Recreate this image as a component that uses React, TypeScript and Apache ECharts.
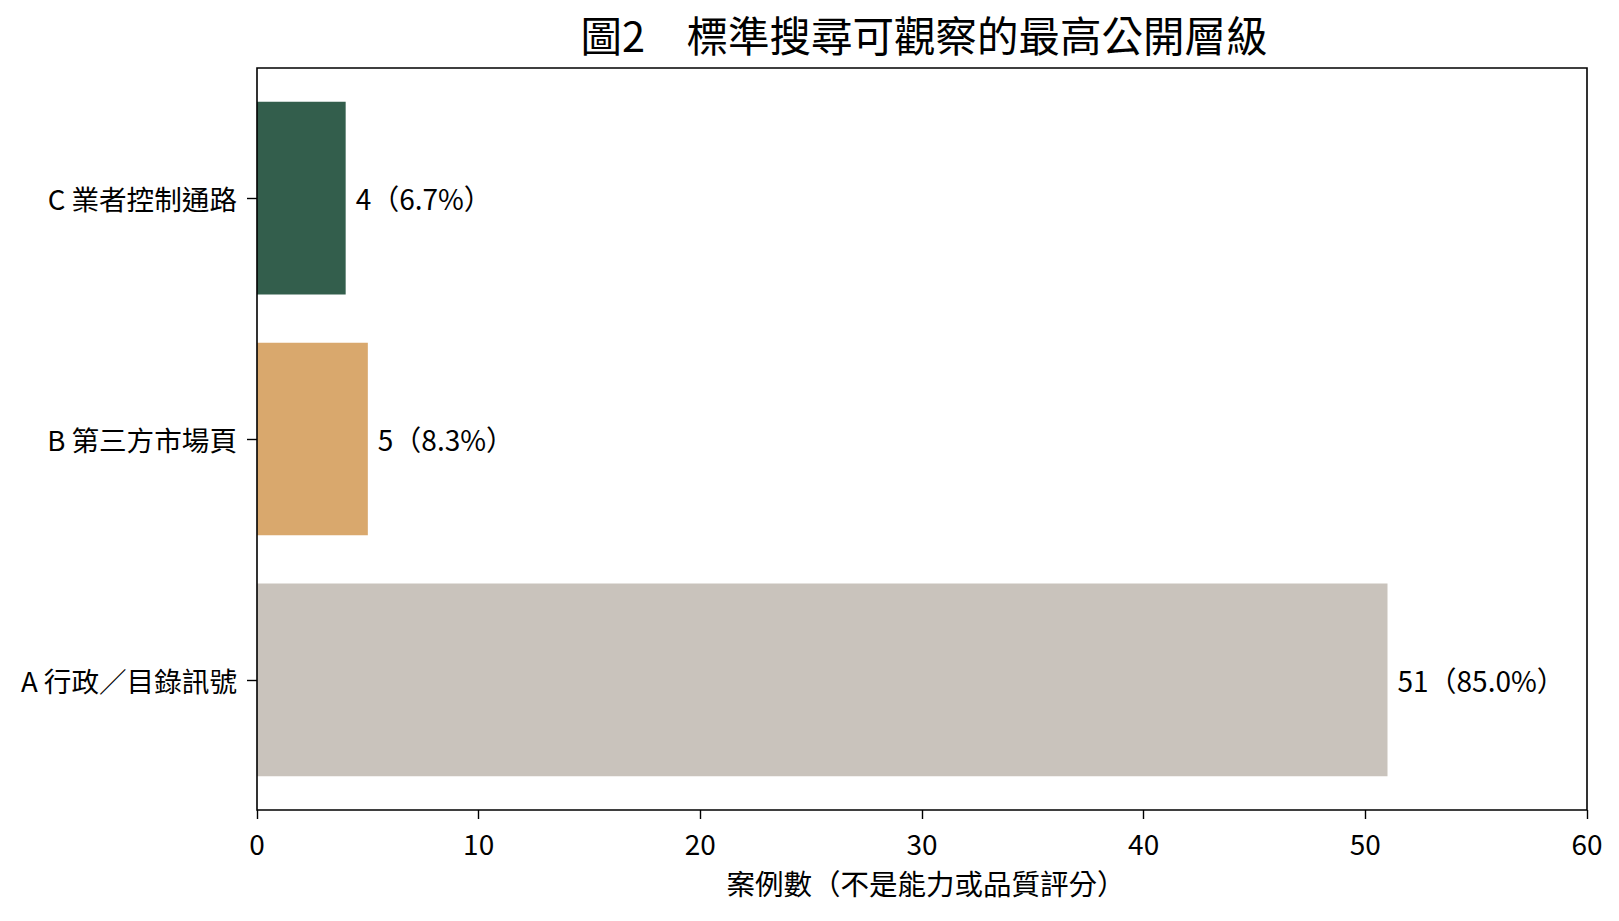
import React, { useEffect, useRef } from "react";
import * as echarts from "echarts";

const categories = ["A 行政／目錄訊號", "B 第三方市場頁", "C 業者控制通路"];
const values = [51, 5, 4];
const percents = ["85.0%", "8.3%", "6.7%"];
const colors = ["#c9c3bc", "#d9a86d", "#335e4c"];
const xTicks = [0, 10, 20, 30, 40, 50, 60];

const FONT = "'Noto Sans CJK TC', 'Noto Sans CJK SC', sans-serif";

// frame (axes box) geometry
const FL = 257;
const FT = 68;
const FW = 1330;
const FH = 742;
// category margins like matplotlib: 3 bars + 5% padding of the 2.8 data span
const UNIT = FH / 3.08;
const PAD = (FH - 3 * UNIT) / 2;

export default function App() {
  const ref = useRef<HTMLDivElement>(null);
  useEffect(() => {
    const chart = echarts.init(ref.current!, null, { renderer: "svg" });
    chart.setOption({
      animation: false,
      backgroundColor: "#ffffff",
      textStyle: { fontFamily: FONT },
      title: {
        text: "圖2　標準搜尋可觀察的最高公開層級",
        left: FL + FW / 2 - 3,
        top: 8,
        textAlign: "center",
        textStyle: { fontFamily: FONT, fontSize: 41.5, fontWeight: "normal", color: "#000" },
      },
      grid: {
        left: FL,
        top: FT + PAD,
        width: FW,
        height: FH - 2 * PAD,
        show: false,
        containLabel: false,
      },
      graphic: [
        {
          type: "rect",
          z: 100,
          silent: true,
          shape: { x: FL, y: FT, width: FW, height: FH },
          style: { fill: "none", stroke: "#000", lineWidth: 1.6 },
        },
      ],
      xAxis: {
        type: "value",
        min: xTicks[0],
        max: xTicks[xTicks.length - 1],
        interval: 10,
        offset: PAD,
        name: "案例數（不是能力或品質評分）",
        nameLocation: "middle",
        nameGap: 58,
        nameTextStyle: { fontFamily: FONT, fontSize: 28.5, color: "#000", padding: [0, 0, 0, 8] },
        axisLine: { show: false },
        axisTick: { show: true, length: 9, lineStyle: { color: "#000", width: 1.4 } },
        axisLabel: { fontFamily: FONT, fontSize: 28, color: "#000", margin: 19 },
        splitLine: { show: false },
      },
      yAxis: {
        type: "category",
        data: categories,
        axisLine: { show: false },
        axisTick: { show: true, alignWithLabel: true, length: 10, lineStyle: { color: "#000", width: 1.4 } },
        axisLabel: { fontFamily: FONT, fontSize: 27.6, color: "#000", margin: 20 },
      },
      series: [
        {
          type: "bar",
          data: values.map((v, i) => ({ value: v, itemStyle: { color: colors[i] } })),
          barWidth: "80%",
          label: {
            show: true,
            position: "right",
            distance: 10,
            fontFamily: FONT,
            fontSize: 28,
            color: "#000",
            formatter: (p: any) => `${p.value}（${percents[p.dataIndex]}）`,
          },
        },
      ],
    });
    return () => chart.dispose();
  }, []);
  return (
    <div
      ref={ref}
      style={{ position: "fixed", left: 0, top: 0, width: 1619, height: 921, background: "#fff" }}
    />
  );
}
